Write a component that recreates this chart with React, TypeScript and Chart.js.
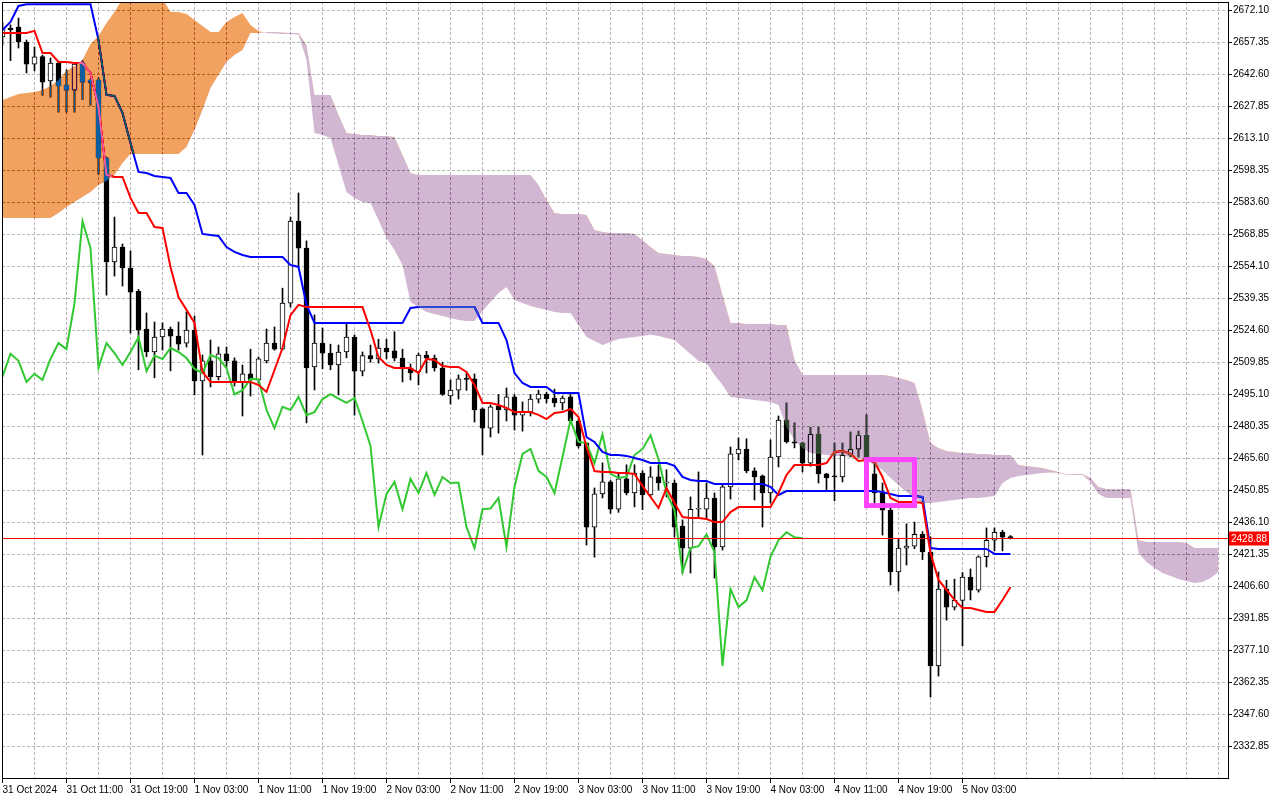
import React, { useEffect, useRef } from "react";
import { Chart, registerables } from "chart.js";

// ---------- data ----------
const X_LABELS = [
  "31 Oct 2024", "31 Oct 11:00", "31 Oct 19:00", "1 Nov 03:00", "1 Nov 11:00", "1 Nov 19:00",
  "2 Nov 03:00", "2 Nov 11:00", "2 Nov 19:00", "3 Nov 03:00", "3 Nov 11:00", "3 Nov 19:00",
  "4 Nov 03:00", "4 Nov 11:00", "4 Nov 19:00", "5 Nov 03:00",
];
const BARS_PER_LABEL = 8;
const BARS_PER_GRID = 4;

const Y_TICKS = [
  2672.10, 2657.35, 2642.60, 2627.85, 2613.10, 2598.35, 2583.60, 2568.85, 2554.10, 2539.35,
  2524.60, 2509.85, 2495.10, 2480.35, 2465.60, 2450.85, 2436.10, 2421.35, 2406.60, 2391.85,
  2377.10, 2362.35, 2347.60, 2332.85,
];

const OPEN = [
  2659.9, 2664.0, 2664.5, 2657.6, 2647.4, 2650.9, 2639.6, 2647.9, 2637.7, 2635.4,
  2647.9, 2640.0, 2640.0, 2604.1, 2556.2, 2563.1, 2553.4, 2542.7, 2525.3, 2514.7,
  2521.6, 2525.3, 2522.0, 2518.8, 2524.8, 2501.4, 2510.6, 2503.3, 2513.9, 2510.6,
  2500.9, 2504.6, 2501.8, 2510.6, 2518.8, 2516.0, 2537.2, 2575.0, 2562.6, 2507.8,
  2518.8, 2514.2, 2508.7, 2514.7, 2521.6, 2505.9, 2513.0, 2511.5, 2516.5, 2515.2,
  2511.9, 2507.3, 2505.5, 2513.3, 2511.9, 2507.3, 2494.4, 2497.1, 2502.3, 2502.3,
  2488.5, 2479.6, 2489.8, 2488.0, 2494.0, 2485.6, 2487.0, 2493.0, 2495.3, 2493.5,
  2491.2, 2494.0, 2482.9, 2472.7, 2434.0, 2449.3, 2454.8, 2442.2, 2456.2, 2449.7,
  2458.9, 2448.8, 2457.1, 2454.3, 2454.3, 2434.5, 2424.3, 2442.2, 2442.2, 2447.4,
  2424.8, 2452.5, 2467.7, 2470.0, 2459.9, 2457.6, 2449.7, 2466.3, 2483.3, 2473.3,
  2472.7, 2463.4, 2476.8, 2458.5, 2457.4, 2457.1, 2467.2, 2469.9, 2476.3, 2458.5,
  2449.7, 2441.8, 2413.3, 2424.3, 2425.2, 2430.6, 2422.5, 2370.0, 2405.4, 2397.1,
  2400.2, 2410.9, 2404.9, 2420.3, 2427.9, 2431.6, 2429.6,
];
const HIGH = [
  2666.5, 2665.5, 2668.6, 2658.5, 2655.3, 2651.5, 2650.2, 2648.5, 2644.7, 2647.9,
  2649.0, 2640.5, 2641.0, 2604.5, 2576.9, 2564.5, 2561.3, 2543.5, 2532.7, 2528.5,
  2528.1, 2526.2, 2528.5, 2533.1, 2531.3, 2513.3, 2520.2, 2517.0, 2517.0, 2512.0,
  2508.7, 2516.0, 2512.4, 2525.3, 2526.2, 2544.1, 2576.9, 2588.0, 2565.9, 2531.8,
  2525.7, 2518.3, 2517.9, 2528.3, 2522.5, 2514.7, 2517.9, 2520.6, 2520.6, 2524.0,
  2516.0, 2509.2, 2514.2, 2515.0, 2513.3, 2510.0, 2501.8, 2504.1, 2505.0, 2504.6,
  2488.9, 2490.3, 2495.1, 2498.1, 2495.1, 2491.7, 2495.1, 2497.1, 2496.2, 2497.6,
  2494.4, 2495.1, 2483.8, 2473.1, 2452.0, 2463.6, 2455.5, 2458.5, 2462.7, 2462.7,
  2460.0, 2461.8, 2462.7, 2460.4, 2455.7, 2437.3, 2447.9, 2459.4, 2454.3, 2449.7,
  2453.4, 2470.9, 2475.1, 2474.7, 2461.3, 2458.0, 2474.2, 2485.2, 2491.2, 2482.0,
  2473.1, 2480.0, 2480.0, 2458.8, 2472.7, 2472.7, 2477.8, 2478.2, 2485.7, 2463.4,
  2454.3, 2442.7, 2428.5, 2435.5, 2436.3, 2431.9, 2429.5, 2413.3, 2409.5, 2410.0,
  2413.0, 2414.7, 2420.7, 2433.6, 2433.6, 2432.5, 2430.1,
];
const LOW = [
  2656.0, 2649.0, 2654.8, 2643.3, 2644.2, 2633.1, 2632.2, 2625.3, 2625.3, 2625.3,
  2631.0, 2628.5, 2596.7, 2540.9, 2549.7, 2545.1, 2523.4, 2506.5, 2512.5, 2502.8,
  2515.6, 2506.0, 2515.6, 2517.0, 2494.9, 2467.2, 2498.6, 2501.8, 2507.8, 2499.0,
  2485.2, 2494.4, 2500.5, 2509.6, 2515.5, 2515.6, 2535.4, 2553.9, 2482.0, 2497.2,
  2507.0, 2506.5, 2494.9, 2512.0, 2485.6, 2503.7, 2510.0, 2509.6, 2511.5, 2510.6,
  2500.9, 2501.8, 2499.5, 2505.0, 2505.9, 2494.7, 2490.7, 2493.0, 2497.0, 2482.4,
  2467.2, 2475.5, 2477.3, 2482.9, 2478.7, 2478.2, 2485.2, 2491.2, 2491.2, 2489.4,
  2488.0, 2482.4, 2470.4, 2425.7, 2420.1, 2447.4, 2440.3, 2440.8, 2448.8, 2443.3,
  2442.0, 2447.9, 2451.1, 2447.9, 2429.4, 2412.8, 2412.8, 2438.0, 2438.0, 2410.5,
  2423.4, 2446.9, 2464.9, 2459.0, 2446.5, 2434.0, 2445.1, 2461.7, 2472.7, 2470.5,
  2459.4, 2462.0, 2454.3, 2451.1, 2446.1, 2454.8, 2466.3, 2466.3, 2464.9, 2445.1,
  2430.3, 2407.3, 2404.5, 2416.5, 2424.0, 2419.0, 2355.7, 2365.3, 2391.1, 2395.8,
  2379.2, 2400.4, 2404.0, 2415.6, 2423.0, 2423.0, 2428.5,
];
const CLOSE = [
  2664.0, 2663.2, 2657.6, 2647.4, 2650.7, 2639.1, 2647.9, 2637.3, 2635.4, 2647.4,
  2639.1, 2639.0, 2604.1, 2556.2, 2563.1, 2553.4, 2542.3, 2524.8, 2514.7, 2521.6,
  2525.3, 2522.0, 2518.3, 2524.8, 2501.4, 2510.6, 2503.3, 2513.9, 2510.6, 2500.9,
  2504.6, 2501.8, 2511.5, 2518.8, 2516.0, 2537.2, 2575.0, 2562.6, 2507.4, 2518.8,
  2514.2, 2508.7, 2514.7, 2521.6, 2505.9, 2513.0, 2511.5, 2516.5, 2514.7, 2511.9,
  2506.9, 2505.0, 2513.3, 2511.9, 2507.3, 2495.1, 2497.1, 2502.3, 2502.1, 2488.0,
  2479.6, 2489.4, 2488.0, 2494.0, 2485.6, 2487.0, 2493.0, 2495.3, 2493.2, 2491.2,
  2493.5, 2482.9, 2471.4, 2434.0, 2449.3, 2454.8, 2442.2, 2456.2, 2449.7, 2458.9,
  2448.8, 2457.1, 2454.3, 2454.5, 2434.0, 2424.3, 2442.2, 2442.5, 2447.4, 2424.8,
  2452.5, 2467.7, 2470.0, 2459.9, 2457.1, 2449.7, 2466.3, 2483.3, 2473.3, 2472.7,
  2463.4, 2476.8, 2458.5, 2456.7, 2457.1, 2467.2, 2469.9, 2476.3, 2465.3, 2449.7,
  2441.8, 2413.3, 2424.3, 2425.2, 2430.6, 2422.5, 2370.0, 2405.4, 2397.1, 2400.2,
  2410.9, 2404.9, 2420.3, 2427.9, 2431.6, 2429.3, 2428.88,
];

const TENKAN = [
  2661.7, 2661.7, 2661.7, 2661.7, 2662.7, 2652.5, 2652.5, 2648.4, 2648.4, 2647.9,
  2647.9, 2643.3, 2627.6, 2596.3, 2595.4, 2595.4, 2585.7, 2578.8, 2578.8, 2572.3,
  2571.9, 2553.9, 2540.0, 2534.1, 2528.1, 2505.5, 2500.9, 2500.9, 2500.9, 2500.9,
  2500.9, 2500.9, 2499.5, 2496.3, 2506.4, 2516.5, 2531.7, 2536.4, 2535.4, 2535.4,
  2535.4, 2535.4, 2535.4, 2535.4, 2535.4, 2535.4, 2524.8, 2512.4, 2508.7, 2507.3,
  2507.3, 2507.3, 2505.0, 2511.5, 2511.0, 2508.2, 2507.8, 2507.8, 2505.5, 2499.5,
  2491.2, 2491.2, 2490.3, 2488.9, 2487.0, 2487.0, 2487.0, 2485.7, 2483.8, 2486.6,
  2487.0, 2488.4, 2484.7, 2470.9, 2459.8, 2459.4, 2459.4, 2458.9, 2458.9, 2458.5,
  2452.9, 2447.9, 2442.8, 2452.0, 2445.1, 2438.6, 2438.2, 2438.2, 2437.7, 2436.3,
  2436.3, 2440.9, 2443.2, 2443.2, 2443.2, 2443.2, 2443.2, 2449.7, 2458.0, 2462.6,
  2462.6, 2462.6, 2462.6, 2463.5, 2468.6, 2469.1, 2467.7, 2464.5, 2464.9, 2464.0,
  2457.1, 2447.4, 2445.6, 2445.6, 2445.6, 2445.1, 2422.0, 2409.6, 2405.0, 2400.4,
  2396.7, 2396.7, 2395.8, 2394.9, 2394.9, 2400.4, 2406.4,
];
const KIJUN = [
  2663.1, 2666.8, 2674.2, 2675.0, 2675.0, 2675.0, 2675.0, 2675.0, 2675.0, 2675.0,
  2675.0, 2675.0, 2658.5, 2633.2, 2632.7, 2624.9, 2611.0, 2597.7, 2597.2, 2595.8,
  2595.4, 2594.9, 2588.0, 2588.0, 2582.5, 2569.1, 2568.6, 2568.2, 2563.1, 2560.8,
  2559.4, 2558.5, 2558.5, 2558.5, 2558.5, 2558.5, 2554.8, 2553.9, 2536.4, 2528.1,
  2528.1, 2528.1, 2528.1, 2528.1, 2528.1, 2528.1, 2528.1, 2528.1, 2528.1, 2528.1,
  2528.1, 2535.0, 2535.4, 2535.4, 2535.4, 2535.4, 2535.4, 2535.4, 2535.4, 2535.4,
  2528.1, 2528.1, 2528.1, 2520.2, 2505.0, 2500.4, 2498.6, 2498.6, 2498.6, 2495.8,
  2495.8, 2495.8, 2495.8, 2475.5, 2473.2, 2468.6, 2467.2, 2467.2, 2466.8, 2465.8,
  2464.9, 2463.5, 2463.5, 2463.5, 2462.2, 2457.1, 2455.7, 2455.2, 2455.2, 2453.9,
  2453.9, 2453.9, 2453.9, 2453.9, 2453.9, 2453.9, 2452.5, 2448.8, 2450.6, 2450.6,
  2450.6, 2450.6, 2450.6, 2450.6, 2450.6, 2450.6, 2450.6, 2450.6, 2450.6, 2450.6,
  2450.2, 2449.2, 2448.3, 2448.3, 2448.3, 2447.9, 2424.3, 2423.9, 2423.9, 2423.9,
  2423.9, 2423.9, 2423.9, 2423.9, 2421.6, 2421.6, 2421.6,
];
const CHIKOU = [
  2503.3, 2513.9, 2510.6, 2500.9, 2504.6, 2501.8, 2511.5, 2518.8, 2516.0, 2537.2,
  2575.0, 2562.6, 2507.4, 2518.8, 2514.2, 2508.7, 2514.7, 2521.6, 2505.9, 2513.0,
  2511.5, 2516.5, 2514.7, 2511.9, 2506.9, 2505.0, 2513.3, 2511.9, 2507.3, 2495.1,
  2497.1, 2502.3, 2502.1, 2488.0, 2479.6, 2489.4, 2488.0, 2494.0, 2485.6, 2487.0,
  2493.0, 2495.3, 2493.2, 2491.2, 2493.5, 2482.9, 2471.4, 2434.0, 2449.3, 2454.8,
  2442.2, 2456.2, 2449.7, 2458.9, 2448.8, 2457.1, 2454.3, 2454.5, 2434.0, 2424.3,
  2442.2, 2442.5, 2447.4, 2424.8, 2452.5, 2467.7, 2470.0, 2459.9, 2457.1, 2449.7,
  2466.3, 2483.3, 2473.3, 2472.7, 2463.4, 2476.8, 2458.5, 2456.7, 2457.1, 2467.2,
  2469.9, 2476.3, 2465.3, 2449.7, 2441.8, 2413.3, 2424.3, 2425.2, 2430.6, 2422.5,
  2370.0, 2405.4, 2397.1, 2400.2, 2410.9, 2404.9, 2420.3, 2427.9, 2431.6, 2429.3,
  2428.88,
];
const SPAN_A = [
  2630.9, 2632.2, 2633.6, 2634.1, 2634.5, 2635.5, 2637.3, 2640.1, 2644.2, 2646.5,
  2649.3, 2656.7, 2660.4, 2666.3, 2671.4, 2677.5, 2677.5, 2677.5, 2677.5, 2677.5,
  2677.5, 2671.4, 2671.4, 2670.5, 2667.7, 2665.0, 2662.2, 2662.2, 2666.8, 2669.1,
  2671.0, 2665.4, 2662.7, 2661.7, 2661.5, 2661.3, 2661.3, 2661.0, 2649.3, 2615.6,
  2614.7, 2613.3, 2600.9, 2588.4, 2585.7, 2583.8, 2583.4, 2575.5, 2567.2, 2561.7,
  2554.8, 2537.7, 2535.4, 2533.1, 2532.2, 2531.3, 2530.4, 2529.4, 2529.0, 2529.0,
  2533.6, 2537.7, 2541.9, 2544.7, 2538.7, 2537.3, 2535.9, 2535.0, 2534.1, 2533.1,
  2532.7, 2532.7, 2527.1, 2521.6, 2519.8, 2517.9, 2519.3, 2520.7, 2521.1, 2521.6,
  2522.1, 2522.6, 2522.1, 2521.1, 2520.2, 2517.0, 2513.8, 2510.5, 2509.6, 2504.1,
  2499.5, 2494.0, 2493.5, 2493.0, 2492.6, 2492.1, 2491.6, 2490.3, 2480.1, 2474.1,
  2470.4, 2468.1, 2467.7, 2467.2, 2466.8, 2466.8, 2466.3, 2465.8, 2464.9, 2462.6,
  2460.3, 2456.6, 2453.4, 2450.2, 2447.4, 2445.1, 2445.1, 2445.6, 2446.0, 2446.5,
  2446.9, 2447.4, 2447.4, 2447.9, 2448.3, 2454.3, 2456.6, 2457.5, 2458.0, 2458.5,
  2458.9, 2459.2, 2458.9, 2458.0, 2458.0, 2458.0, 2454.8, 2449.2, 2447.4, 2447.4,
  2447.4, 2447.4, 2422.0, 2417.9, 2415.1, 2412.8, 2411.4, 2410.1, 2409.1, 2408.2,
  2408.7, 2410.5, 2413.3,
];
const SPAN_B = [
  2576.5, 2576.5, 2576.5, 2576.5, 2576.5, 2576.5, 2576.5, 2578.8, 2581.5, 2583.8,
  2586.1, 2588.4, 2591.7, 2593.5, 2596.3, 2601.8, 2606.0, 2606.0, 2606.0, 2606.0,
  2606.0, 2606.0, 2606.0, 2609.2, 2617.0, 2626.2, 2636.4, 2642.4, 2648.4, 2651.6,
  2653.9, 2661.7, 2661.7, 2662.2, 2662.2, 2662.0, 2661.7, 2661.7, 2656.2, 2633.2,
  2633.2, 2633.2, 2623.9, 2615.6, 2615.2, 2614.7, 2614.7, 2614.3, 2614.3, 2613.8,
  2605.5, 2597.2, 2596.3, 2596.3, 2596.3, 2596.3, 2596.3, 2596.3, 2596.3, 2596.3,
  2596.3, 2596.3, 2596.3, 2596.3, 2596.3, 2596.3, 2596.3, 2591.7, 2584.8, 2578.8,
  2578.3, 2578.3, 2578.3, 2577.8, 2570.9, 2570.0, 2569.5, 2569.5, 2569.5, 2569.1,
  2566.3, 2563.1, 2560.3, 2559.9, 2559.4, 2558.9, 2558.9, 2558.5, 2557.6, 2554.3,
  2541.0, 2528.1, 2528.1, 2527.6, 2527.6, 2527.6, 2527.6, 2527.1, 2527.1, 2511.0,
  2504.1, 2504.1, 2504.1, 2504.1, 2504.1, 2504.1, 2504.1, 2504.1, 2504.1, 2504.1,
  2504.1, 2503.6, 2502.7, 2501.8, 2500.4, 2487.9, 2472.7, 2470.4, 2469.1, 2468.6,
  2468.1, 2468.1, 2467.7, 2467.7, 2467.2, 2467.2, 2467.2, 2462.6, 2462.1, 2461.7,
  2461.2, 2460.3, 2459.4, 2458.2, 2458.5, 2458.5, 2456.6, 2452.5, 2451.5, 2451.5,
  2451.5, 2451.5, 2428.0, 2427.1, 2427.1, 2427.1, 2427.1, 2427.1, 2426.7, 2424.3,
  2424.3, 2424.3, 2424.3,
];

const LAST_PRICE = 2428.88;
const BOX_BARS = [108, 114];
const BOX_PRICES = [2443.9, 2465.1];

// ---------- style ----------
const FONT = { family: "'Liberation Sans', Arial, sans-serif", size: 10 };
const X_MIN = -0.0625;
const X_MAX = 153.1875;
const Y_MIN = 2318.33;
const Y_MAX = 2676.02;
// the cloud is painted in "difference" mode (like MT's XOR fill), so its colours are inverted
const CLOUD_UP = "rgb(13,93,159)"; // shows as sandy brown on white
const CLOUD_DOWN = "rgb(45,72,45)"; // shows as thistle on white

const cloudBlend = {
  id: "cloudBlend",
  beforeDatasetDraw(chart: any, args: any) {
    if (chart.data.datasets[args.index]?.label === "Senkou Span A") {
      chart.ctx.save();
      chart.ctx.globalCompositeOperation = "difference";
    }
  },
  afterDatasetDraw(chart: any, args: any) {
    if (chart.data.datasets[args.index]?.label === "Senkou Span A") {
      chart.ctx.restore();
    }
  },
};
Chart.register(cloudBlend);
Chart.register(...registerables);

const overlay = {
  id: "overlay",
  beforeDraw(chart: any) {
    const { ctx, width, height } = chart;
    ctx.save();
    ctx.fillStyle = "#ffffff";
    ctx.fillRect(0, 0, width, height);
    ctx.restore();
  },
  afterDatasetsDraw(chart: any) {
    const { ctx, chartArea: a, scales } = chart;
    const x = scales.x;
    const y = scales.y;
    ctx.save();
    const py = Math.round(y.getPixelForValue(LAST_PRICE)) + 0.5;
    ctx.strokeStyle = "#ff0000";
    ctx.lineWidth = 1;
    ctx.beginPath();
    ctx.moveTo(a.left, py);
    ctx.lineTo(a.right, py);
    ctx.stroke();
    const bx0 = x.getPixelForValue(BOX_BARS[0]);
    const bx1 = x.getPixelForValue(BOX_BARS[1]);
    const by0 = y.getPixelForValue(BOX_PRICES[1]);
    const by1 = y.getPixelForValue(BOX_PRICES[0]);
    ctx.strokeStyle = "#ff44ff";
    ctx.lineWidth = 5;
    ctx.strokeRect(bx0, by0, bx1 - bx0, by1 - by0);
    ctx.restore();
  },
  afterDraw(chart: any) {
    const { ctx, chartArea: a, scales } = chart;
    ctx.save();
    ctx.strokeStyle = "#000";
    ctx.lineWidth = 1;
    ctx.strokeRect(a.left + 0.5, a.top + 0.5, a.right - a.left, a.bottom - a.top);
    const py = Math.round(scales.y.getPixelForValue(LAST_PRICE)) + 0.5;
    ctx.fillStyle = "#ff0000";
    ctx.fillRect(a.right + 1, py - 7, 40, 14);
    ctx.fillStyle = "#fff";
    ctx.font = `${FONT.size}px ${FONT.family}`;
    ctx.textBaseline = "middle";
    ctx.textAlign = "left";
    ctx.fillText(LAST_PRICE.toFixed(2), a.right + 3, py + 0.5);
    ctx.restore();
  },
};

function pts(values: number[]) {
  return values.map((v, i) => ({ x: i, y: v }));
}

export default function App() {
  const ref = useRef<HTMLCanvasElement>(null);
  useEffect(() => {
    const canvas = ref.current;
    if (!canvas) return;
    const line = (label: string, data: number[], color: string, order: number) => ({
      type: "line" as const,
      label,
      data: pts(data),
      borderColor: color,
      borderWidth: 2,
      pointRadius: 0,
      tension: 0,
      fill: false,
      order,
    });
    const chart = new Chart(canvas, {
      type: "bar",
      data: {
        datasets: [
          {
            type: "line",
            label: "Senkou Span B",
            data: pts(SPAN_B),
            borderColor: "rgba(0,0,0,0)",
            borderWidth: 0,
            pointRadius: 0,
            fill: false,
            order: 1,
          },
          {
            type: "line",
            label: "Senkou Span A",
            data: pts(SPAN_A),
            borderColor: "rgba(0,0,0,0)",
            borderWidth: 0,
            pointRadius: 0,
            fill: { target: 0, above: CLOUD_UP, below: CLOUD_DOWN },
            order: 0,
          },
          line("Tenkan-sen", TENKAN, "#ff0000", 2),
          line("Kijun-sen", KIJUN, "#0000ff", 3),
          line("Chikou Span", CHIKOU, "rgb(50,200,50)", 4),
          {
            type: "bar",
            label: "Body",
            data: OPEN.map((o, i) => ({ x: i, y: [o, CLOSE[i]] })),
            backgroundColor: OPEN.map((o, i) => (CLOSE[i] >= o ? "#ffffff" : "#000000")),
            borderColor: "#000000",
            borderWidth: 1,
            borderSkipped: false,
            barThickness: 5,
            minBarLength: 1,
            grouped: false,
            order: 5,
          },
          {
            type: "bar",
            label: "Wick",
            data: HIGH.map((h, i) => ({ x: i, y: [LOW[i], h] })),
            backgroundColor: "#000000",
            borderWidth: 0,
            barThickness: 1,
            grouped: false,
            order: 6,
          },
        ] as any,
      },
      options: {
        responsive: false,
        devicePixelRatio: 1,
        animation: false,
        events: [],
        layout: { padding: { left: 2, top: 2, right: 0, bottom: 0 } },
        plugins: {
          legend: { display: false },
          tooltip: { enabled: false },
          filler: { drawTime: "beforeDatasetDraw" },
        },
        scales: {
          x: {
            type: "linear",
            min: X_MIN,
            max: X_MAX,
            offset: false,
            afterBuildTicks: (scale: any) => {
              const t = [];
              for (let v = 0; v <= X_MAX; v += BARS_PER_GRID) t.push({ value: v });
              scale.ticks = t;
            },
            afterFit: (scale: any) => {
              scale.height = 22;
              scale.paddingLeft = 0;
              scale.paddingRight = 0;
            },
            grid: {
              offset: false,
              color: "rgb(192,172,192)",
              lineWidth: 1,
              tickLength: 5,
              tickWidth: 1,
              tickBorderDash: [],
              tickColor: (c: any) => {
                const v = Math.round(c.tick ? c.tick.value : -1);
                return v % BARS_PER_LABEL === 0 && X_LABELS[v / BARS_PER_LABEL] ? "#000" : "rgba(0,0,0,0)";
              },
            },
            border: { display: false, dash: [3, 2] },
            ticks: {
              autoSkip: false,
              maxRotation: 0,
              minRotation: 0,
              align: "start",
              padding: 1,
              color: "#000",
              font: FONT,
              callback: (v: any) => {
                const n = Math.round(Number(v));
                return n % BARS_PER_LABEL === 0 ? X_LABELS[n / BARS_PER_LABEL] ?? "" : "";
              },
            },
          },
          y: {
            type: "linear",
            position: "right",
            min: Y_MIN,
            max: Y_MAX,
            beginAtZero: false,
            afterBuildTicks: (scale: any) => {
              scale.ticks = Y_TICKS.map((v) => ({ value: v }));
            },
            afterFit: (scale: any) => {
              scale.width = 52;
              scale.paddingTop = 0;
              scale.paddingBottom = 0;
            },
            grid: {
              color: "rgb(176,190,176)",
              lineWidth: 1,
              tickLength: 4,
              tickWidth: 1,
              tickBorderDash: [],
              tickColor: "#000",
            },
            border: { display: false, dash: [3, 2] },
            ticks: {
              padding: 1,
              color: "#000",
              font: FONT,
              callback: (v: any) => Number(v).toFixed(2),
            },
          },
        },
      } as any,
      plugins: [overlay],
    });
    return () => chart.destroy();
  }, []);
  return (
    <canvas
      ref={ref}
      width={1280}
      height={800}
      style={{ position: "absolute", left: 0, top: 0, width: 1280, height: 800 }}
    />
  );
}
